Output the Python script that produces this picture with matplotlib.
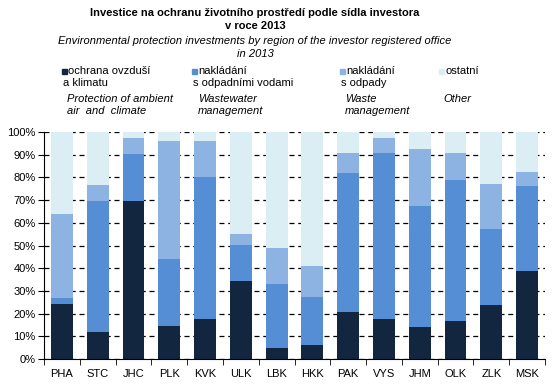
import matplotlib.pyplot as plt
from matplotlib.patches import Rectangle
from matplotlib.ticker import MultipleLocator, FuncFormatter
import numpy as np

plt.rcParams['font.family'] = ['Liberation Sans', 'DejaVu Sans']

regions = ['PHA', 'STC', 'JHC', 'PLK', 'KVK', 'ULK', 'LBK', 'HKK',
           'PAK', 'VYS', 'JHM', 'OLK', 'ZLK', 'MSK']
# cumulative tops (%), turned into shares below
top_air = [24.4, 12.0, 69.5, 14.7, 17.8, 34.5, 5.0, 6.3, 20.9, 17.8, 14.2, 16.9, 23.9, 38.9]
top_water = [27.0, 69.5, 90.2, 44.2, 80.3, 50.1, 32.9, 27.2, 82.1, 90.9, 67.5, 79.0, 57.4, 76.4]
top_waste = [64.0, 76.8, 97.5, 96.2, 96.2, 55.2, 49.0, 40.8, 90.6, 97.5, 92.7, 90.6, 77.2, 82.5]

air = np.array(top_air)
water = np.array(top_water) - air
waste = np.array(top_waste) - np.array(top_water)
other = 100 - np.array(top_waste)

series = [air, water, waste, other]
colors = ['#12263f', '#558ed5', '#8db3e2', '#dbeef4']
cz_labels = ['ochrana ovzduší\na klimatu', 'nakládání\ns odpadními vodami',
             'nakládání\ns odpady', 'ostatní']
en_labels = ['Protection of ambient\nair  and  climate', 'Wastewater\nmanagement',
             'Waste\nmanagement', 'Other']

W, H = 555, 386
fig = plt.figure(figsize=(W / 100, H / 100), dpi=100)
ax = fig.add_axes([44 / W, 1 - 359 / H, (545 - 44) / W, (359 - 132) / H])

x = np.arange(len(regions))
bottom = np.zeros(len(regions))
for vals, c in zip(series, colors):
    ax.bar(x, vals, bottom=bottom, width=0.61, color=c, zorder=2)
    bottom += vals

ax.set_xlim(-0.5, len(regions) - 0.5)
ax.set_ylim(0, 100)
ax.yaxis.set_major_locator(MultipleLocator(10))
ax.yaxis.set_major_formatter(FuncFormatter(lambda v, p: f'{v:.0f}%'))
ax.yaxis.grid(True, linestyle=(0, (4, 3)), color='black', linewidth=0.9, zorder=0)
ax.set_axisbelow(True)
ax.set_xticks(x)
ax.set_xticklabels(regions)
ax.set_xticks(np.arange(len(regions) + 1) - 0.5, minor=True)
ax.tick_params(axis='x', which='major', length=0, pad=7, labelsize=8)
ax.tick_params(axis='x', which='minor', length=4, direction='out')
ax.tick_params(axis='y', length=4, direction='out', labelsize=8, pad=2)
for s in ['top', 'right']:
    ax.spines[s].set_visible(False)

fig.text(255 / W, 1 - 8 / H, 'Investice na ochranu životního prostředí podle sídla investora\nv roce 2013',
         ha='center', va='top', fontsize=8, fontweight='bold', linespacing=1.4)
fig.text(255 / W, 1 - 36 / H, 'Environmental protection investments by region of the investor registered office\nin 2013',
         ha='center', va='top', fontsize=8, style='italic', linespacing=1.4)

sq_x = [62, 192, 340, 439]
en_x = [67, 198, 345, 443]
for i in range(4):
    fig.patches.append(Rectangle((sq_x[i] / W, 1 - 74 / H), 5 / W, 5 / H,
                                 transform=fig.transFigure, color=colors[i]))
    fig.text((sq_x[i] + 6) / W, 1 - 66 / H, cz_labels[i].split('\n')[0],
             ha='left', va='top', fontsize=8)
    if '\n' in cz_labels[i]:
        fig.text((sq_x[i] + 1) / W, 1 - 78 / H, cz_labels[i].split('\n')[1],
                 ha='left', va='top', fontsize=8)
    fig.text(en_x[i] / W, 1 - 94 / H, en_labels[i], ha='left', va='top',
             fontsize=8, style='italic', linespacing=1.3)

fig.savefig('out.png', dpi=100)
